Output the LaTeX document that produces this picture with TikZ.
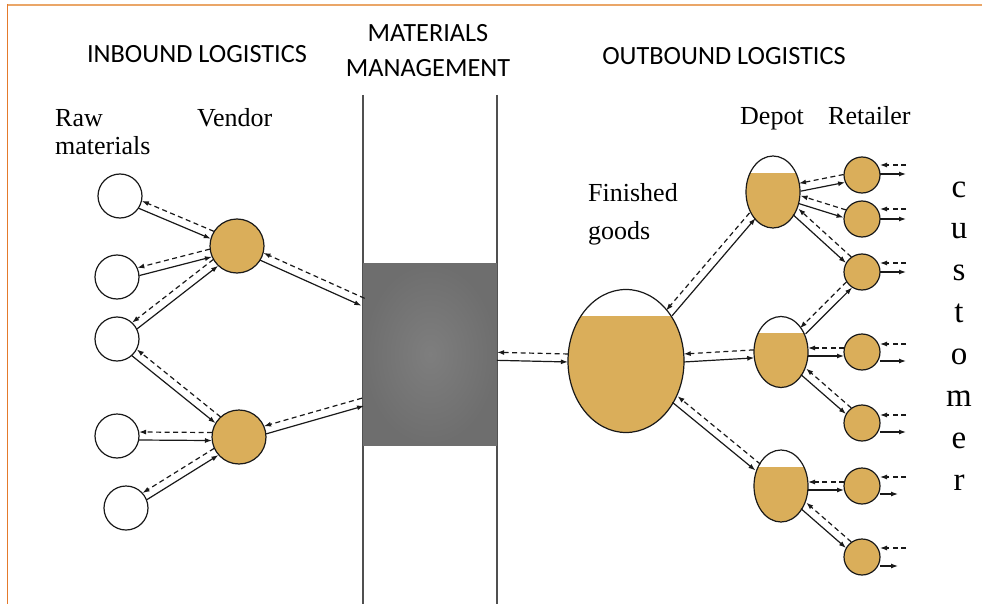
\documentclass[tikz,border=0pt]{standalone}
\usepackage{fontspec}
\setmainfont{Liberation Serif}
\newfontfamily\hdrfont{Carlito}
\usetikzlibrary{calc,shapes.geometric,arrows.meta}
\definecolor{gold}{RGB}{218,174,90}
\definecolor{linec}{RGB}{25,25,25}
\definecolor{frametop}{RGB}{234,166,104}
\definecolor{frameleft}{RGB}{228,122,44}
\definecolor{boxedge}{RGB}{110,110,110}
\definecolor{boxmid}{RGB}{126,126,126}
\definecolor{railc}{RGB}{80,80,80}

\newcommand\pairflow[3][4]{%
  \draw[solidflow] let \p1=($(#3)-(#2)$), \n1={atan2(\y1,\x1)}, \n2={atan2(-\y1,-\x1)} in
    ($(#2.\n1)!#1pt!-90:(#3)$) -- ($(#3.\n2)!#1pt!90:(#2)$);
  \draw[dashflow] let \p1=($(#3)-(#2)$), \n1={atan2(\y1,\x1)}, \n2={atan2(-\y1,-\x1)} in
    ($(#3.\n2)!#1pt!-90:(#2)$) -- ($(#2.\n1)!#1pt!90:(#3)$);
}

\begin{document}
\begin{tikzpicture}[x=1pt,y=-1pt,
  hdr/.style={font=\hdrfont\fontsize{26.3}{30}\selectfont, inner sep=0pt},
  lbl/.style={font=\fontsize{26}{28}\selectfont, inner sep=0pt},
  rawnode/.style={circle, draw=linec, line width=1.2pt, fill=white, minimum size=44pt, inner sep=0pt, outer sep=0pt},
  vendornode/.style={circle, draw=linec, line width=1.2pt, fill=gold, minimum size=54pt, inner sep=0pt, outer sep=0pt},
  retailnode/.style={circle, draw=linec, line width=1.2pt, fill=gold, minimum size=36pt, inner sep=0pt, outer sep=0pt},
  tank/.style={ellipse, draw=linec, line width=1.2pt, fill=white, inner sep=0pt, outer sep=0pt,
    path picture={\fill[gold] (path picture bounding box.south west) rectangle ([yshift=-#1]path picture bounding box.north east);}},
  gbox/.style={rectangle, minimum width=134pt, minimum height=182pt, inner sep=0pt, outer sep=0pt, inner color=boxmid, outer color=boxedge},
  port/.style={inner sep=0pt, outer sep=0pt, minimum size=0pt},
  solidflow/.style={draw=linec, line width=1.2pt, -{Latex[length=7pt,width=5pt]}},
  dashflow/.style={draw=linec, line width=1.2pt, dash pattern=on 5pt off 3.5pt, -{Latex[length=7pt,width=5pt]}},
  rail/.style={draw=railc, line width=1.5pt}
]
\useasboundingbox (0,0) rectangle (982,604);

% frame lines
\draw[frametop, line width=2pt] (7,5) -- (982,5);
\draw[frameleft, line width=1pt] (7.5,4) -- (7.5,604);

% headers
\node[hdr, anchor=base] (tin) at (197,63) {INBOUND LOGISTICS};
\node[hdr, anchor=base] (tmat1) at (428,42) {MATERIALS};
\node[hdr, anchor=base] (tmat2) at (428,77) {MANAGEMENT};
\node[hdr, anchor=base] (tout) at (724,65) {OUTBOUND LOGISTICS};

% rails and central box
\draw[rail] (363,95) -- (363,604);
\draw[rail] (497,95) -- (497,604);
\node[gbox] (mm) at (430,354) {};
\node[port] (b1) at (363,302) {};
\node[port] (b2) at (363,402) {};

% labels
\node[lbl, anchor=base west] (traw) at (55,127) {Raw};
\node[lbl, anchor=base west] (traw2) at (55,155) {materials};
\node[lbl, anchor=base west] (tven) at (197,127) {Vendor};
\node[lbl, anchor=base west] (tfin) at (588,202) {Finished};
\node[lbl, anchor=base west] (tfin2) at (588,239) {goods};
\node[lbl, anchor=base west] (tdep) at (740,125) {Depot};
\node[lbl, anchor=base west] (tret) at (828,125) {Retailer};
\foreach \ch [count=\i from 0] in {c,u,s,t,o,m,e,r}{
  \node[font=\fontsize{33}{36}\selectfont, anchor=base, inner sep=0pt] (cust\i) at (959,197+41.9*\i) {\ch};
}

% raw materials
\node[rawnode] (r1) at (120,196) {};
\node[rawnode] (r2) at (117,277) {};
\node[rawnode] (r3) at (117,339) {};
\node[rawnode] (r4) at (117,436) {};
\node[rawnode] (r5) at (126,508) {};
% vendors
\node[vendornode] (v1) at (237,246) {};
\node[vendornode] (v2) at (239,437) {};
% finished goods and depots
\node[tank=26pt, minimum width=116pt, minimum height=143pt] (fg) at (626,361) {};
\node[tank=17pt, minimum width=54pt, minimum height=72pt] (d1) at (773,192) {};
\node[tank=16pt, minimum width=54pt, minimum height=71pt] (d2) at (781,352) {};
\node[tank=17pt, minimum width=54pt, minimum height=72pt] (d3) at (781,486) {};
% retailers
\node[retailnode] (q1) at (862,175) {};
\node[retailnode] (q2) at (862,219) {};
\node[retailnode] (q3) at (862,272) {};
\node[retailnode] (q4) at (862,352) {};
\node[retailnode] (q5) at (862,423) {};
\node[retailnode] (q6) at (862,486) {};
\node[retailnode] (q7) at (862,557) {};

% flows
\pairflow{r1}{v1}
\pairflow{r2}{v1}
\pairflow{r3}{v1}
\pairflow{r3}{v2}
\pairflow{r4}{v2}
\pairflow{r5}{v2}
\pairflow{v1}{b1}
\pairflow{v2}{b2}
\pairflow{mm}{fg}
\pairflow{fg}{d1}
\pairflow{fg}{d2}
\pairflow{fg}{d3}
\pairflow{d1}{q1}
\pairflow{d1}{q2}
\pairflow{d1}{q3}
\pairflow{d2}{q3}
\pairflow{d2}{q4}
\pairflow{d2}{q5}
\pairflow{d3}{q6}
\pairflow{d3}{q7}

% retailer to customer stubs
\coordinate (k1) at (906,165); \coordinate (o1) at (906,174);
\coordinate (k2) at (906,209); \coordinate (o2) at (906,219);
\coordinate (k3) at (906,263); \coordinate (o3) at (906,272);
\coordinate (k4) at (906,344); \coordinate (o4) at (906,361);
\coordinate (k5) at (906,415); \coordinate (o5) at (906,432);
\coordinate (k6) at (906,477); \coordinate (o6) at (898,494);
\coordinate (k7) at (906,548); \coordinate (o7) at (898,566);
\foreach \i in {1,...,7}{
  \draw[dashflow] (k\i) -- (k\i -| q\i.east);
  \draw[solidflow] (o\i -| q\i.east) -- (o\i);
}
\end{tikzpicture}
\end{document}
